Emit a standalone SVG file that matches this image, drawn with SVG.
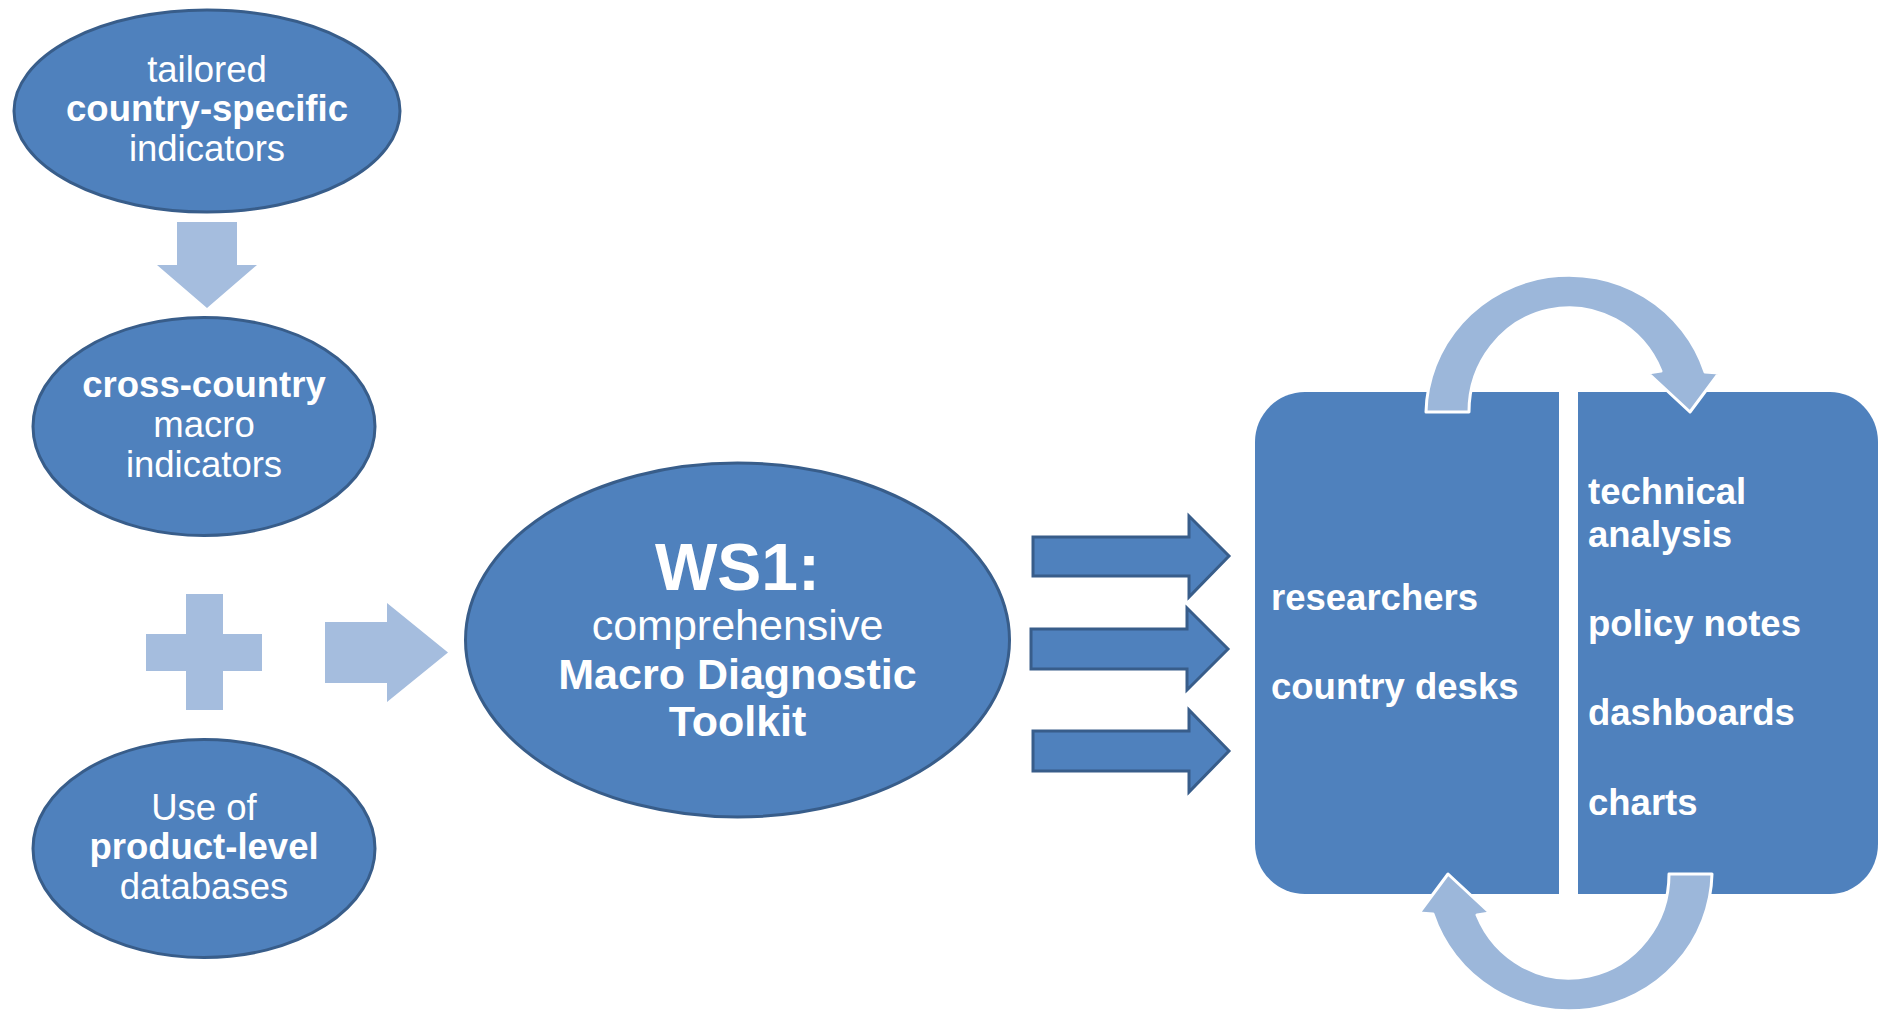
<svg xmlns="http://www.w3.org/2000/svg" width="1879" height="1012" viewBox="0 0 1879 1012">
<style>
.node{fill:#4F81BD;stroke:#385D8A;stroke-width:3}
.panel{fill:#4F81BD}
.light{fill:#A5BDDE}
.curve{fill:#9CB7DA;stroke:#FFFFFF;stroke-width:3;stroke-linejoin:round}
.dark{fill:#4F81BD;stroke:#385D8A;stroke-width:3}
text{font-family:"Liberation Sans",Arial,sans-serif;fill:#FFFFFF}
.c{text-anchor:middle;font-size:36.5px}
.b{font-weight:bold}
.p{font-size:36.5px;font-weight:bold}
.ws{text-anchor:middle;font-size:43px}
</style>
<rect width="1879" height="1012" fill="#FFFFFF"/>
<g id="node-country-specific">
<ellipse class="node" cx="207" cy="111" rx="193" ry="101"/>
<text class="c" x="207" y="82">tailored</text>
<text class="c b" x="207" y="121">country-specific</text>
<text class="c" x="207" y="161">indicators</text>
</g>
<g id="node-cross-country">
<ellipse class="node" cx="204" cy="426.5" rx="171" ry="109"/>
<text class="c b" x="204" y="397">cross-country</text>
<text class="c" x="204" y="437">macro</text>
<text class="c" x="204" y="477">indicators</text>
</g>
<g id="plus">
<path class="light" d="M186,594 H223 V634 H262 V671 H223 V710 H186 V671 H146 V634 H186 Z"/>
</g>
<g id="node-product-level">
<ellipse class="node" cx="204" cy="848.5" rx="171" ry="109"/>
<text class="c" x="204" y="820">Use of</text>
<text class="c b" x="204" y="859">product-level</text>
<text class="c" x="204" y="899">databases</text>
</g>
<g id="node-ws1">
<ellipse class="node" cx="737.5" cy="640" rx="272" ry="177"/>
<text class="ws b" x="737.5" y="590" style="font-size:66px">WS1:</text>
<text class="ws" x="737.5" y="640">comprehensive</text>
<text class="ws b" x="737.5" y="689">Macro Diagnostic</text>
<text class="ws b" x="737.5" y="736">Toolkit</text>
</g>
<g id="node-audience">
<path class="panel" d="M1305,392 H1559 V894 H1305 A50,50 0 0 1 1255,844 V442 A50,50 0 0 1 1305,392 Z"/>
<text class="p" x="1271" y="610">researchers</text>
<text class="p" x="1271" y="699">country desks</text>
</g>
<g id="node-outputs">
<path class="panel" d="M1578,392 H1830 A48,50 0 0 1 1878,442 V844 A48,50 0 0 1 1830,894 H1578 Z"/>
<text class="p" x="1588" y="504">technical</text>
<text class="p" x="1588" y="547">analysis</text>
<text class="p" x="1588" y="636">policy notes</text>
<text class="p" x="1588" y="725">dashboards</text>
<text class="p" x="1588" y="815">charts</text>
</g>
<g id="connectors">
<path class="light" d="M177,222 H237 V265 H257 L207,308 L157,265 H177 Z"/>
<path class="light" d="M325,622 H387 V603 L448,652.5 L387,702 V683 H325 Z"/>
<path class="dark" d="M1033,537 H1189 V516 L1229,556 L1189,597 V576 H1033 Z"/>
<path class="dark" d="M1031,629 H1187 V608 L1228,649 L1187,690 V669 H1031 Z"/>
<path class="dark" d="M1033,731 H1189 V710 L1229,751 L1189,792 V771 H1033 Z"/>
<path id="cycle-top" class="curve" d="M1426,412 A143,140 0 0 1 1705,372 L1719,373 L1690,412 L1648,373 L1661,371 A100,104 0 0 0 1469,412 Z"/>
<path id="cycle-bottom" class="curve" transform="rotate(180 1569 643)" d="M1426,412 A143,140 0 0 1 1705,372 L1719,373 L1690,412 L1648,373 L1661,371 A100,104 0 0 0 1469,412 Z"/>
</g>
</svg>
